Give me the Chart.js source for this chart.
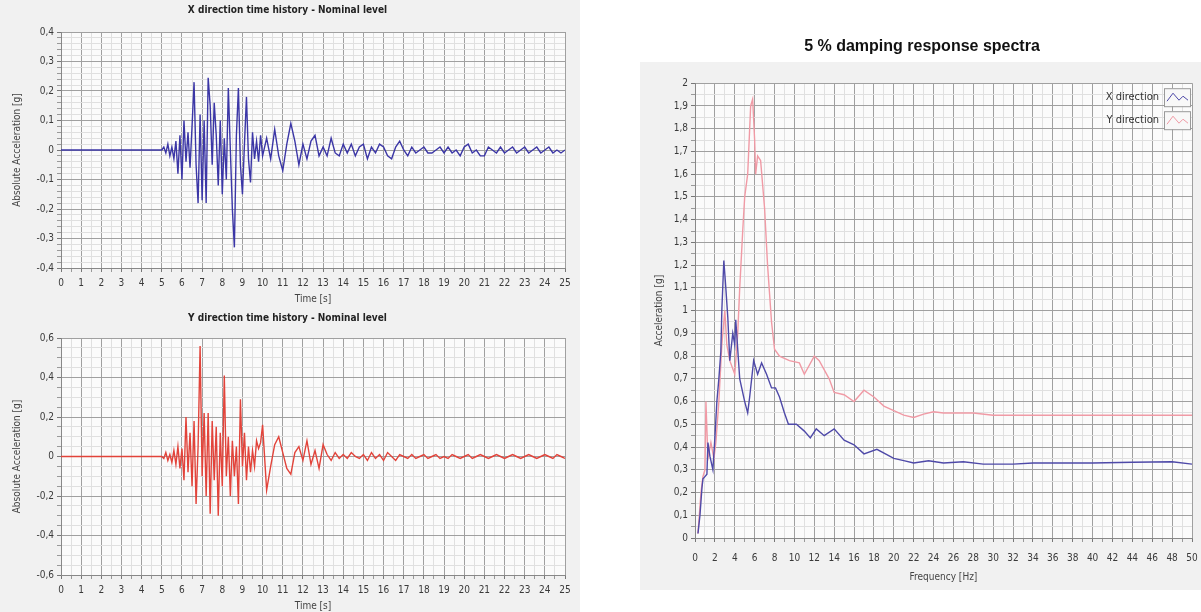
<!DOCTYPE html>
<html><head><meta charset="utf-8">
<script src="https://cdn.jsdelivr.net/npm/chart.js@4.4.1/dist/chart.umd.min.js"></script>
<style>
html,body{margin:0;padding:0;background:#fff;width:1201px;height:612px;overflow:hidden;}
.box{position:absolute;}
</style></head>
<body>
<div class="box" style="left:0;top:0;width:580px;height:305px"><canvas id="cx"></canvas></div>
<div class="box" style="left:0;top:305px;width:580px;height:307px"><canvas id="cy"></canvas></div>
<div class="box" style="left:630px;top:30px;width:571px;height:560px"><canvas id="cs"></canvas></div>
<script>
// ---------- DATA ----------
const timeS = [0,5.0,5.1,5.2,5.3,5.4,5.5,5.6,5.7,5.8,5.9,6.0,6.1,6.2,6.3,6.4,6.5,6.6,6.7,6.8,6.9,7.0,7.1,7.2,7.3,7.4,7.5,7.6,7.7,7.8,7.9,8.0,8.1,8.2,8.3,8.4,8.5,8.6,8.7,8.8,8.9,9.0,9.1,9.2,9.3,9.4,9.5,9.6,9.7,9.8,9.9,10.0,
10.2,10.4,10.6,10.8,11.0,11.2,11.4,11.6,11.8,12.0,12.2,12.4,12.6,12.8,13.0,13.2,13.4,13.6,13.8,14.0,14.2,14.4,14.6,14.8,15.0,15.2,15.4,15.6,15.8,16.0,16.2,16.4,16.6,16.8,17.0,17.2,17.4,17.6,17.8,18.0,18.2,18.4,18.6,18.8,19.0,19.2,19.4,19.6,19.8,20.0,20.2,20.4,20.6,20.8,21.0,21.2,21.4,21.6,21.8,22.0,22.2,22.4,22.6,22.8,23.0,23.2,23.4,23.6,23.8,24.0,24.2,24.4,24.6,24.8,25.0];

const accX = [0,0,0.01,-0.01,0.02,-0.02,0.01,-0.03,0.03,-0.08,0.05,-0.10,0.10,-0.04,0.06,-0.06,0.08,0.23,-0.05,-0.18,0.12,-0.17,0.10,-0.18,0.245,0.15,-0.05,0.16,0.05,-0.12,0.10,-0.15,0.04,-0.10,0.21,0.00,-0.20,-0.33,0.05,0.21,-0.05,-0.15,0.02,0.18,-0.03,-0.11,0.06,-0.03,0.03,-0.04,0.05,-0.02,
0.04,-0.03,0.07,-0.02,-0.07,0.02,0.09,0.03,-0.05,0.02,-0.03,0.03,0.05,-0.02,0.01,-0.02,0.04,-0.01,-0.02,0.02,-0.01,0.02,-0.02,0.01,0.02,-0.03,0.01,-0.01,0.02,0.01,-0.02,-0.03,0.01,0.03,0.00,-0.02,0.01,-0.01,0.00,0.01,-0.01,-0.01,0.00,0.01,-0.01,0.01,-0.01,0.00,-0.02,0.01,0.02,-0.01,0.00,-0.02,-0.02,0.01,0.00,-0.01,0.01,-0.01,0.00,0.01,-0.01,0.00,0.01,-0.01,0.00,0.01,-0.01,0.00,0.01,-0.01,0.00,-0.01,0.00];

const accY = [0,0,-0.01,0.02,-0.02,0.01,-0.03,0.03,-0.04,0.05,-0.06,0.04,-0.12,0.20,-0.08,0.12,-0.15,0.18,-0.24,0.05,0.56,-0.10,0.22,-0.20,0.22,-0.29,0.18,-0.12,0.15,-0.30,0.12,-0.15,0.41,-0.10,0.10,-0.20,0.08,-0.10,0.05,-0.24,0.29,-0.05,0.12,-0.12,0.05,-0.08,0.03,-0.05,0.08,0.04,0.07,0.16,
-0.17,-0.05,0.06,0.10,0.02,-0.06,-0.09,0.02,0.05,-0.02,0.08,-0.04,0.03,-0.06,0.06,0.01,-0.02,0.02,-0.01,0.01,-0.01,0.02,0.00,-0.01,0.01,-0.02,0.02,-0.01,0.01,-0.02,0.02,0.00,-0.02,0.01,0.00,-0.01,0.01,-0.01,0.00,0.01,-0.01,0.00,0.01,-0.01,0.00,-0.01,0.01,0.00,-0.01,0.00,0.01,-0.01,0.00,0.01,0.00,-0.01,0.00,0.01,0.00,-0.01,0.00,0.01,0.00,-0.01,0.00,0.01,0.00,-0.01,0.00,0.01,0.00,-0.01,0.01,0.00,-0.01];

const freqX = [0.3,0.5,0.7,0.8,1.0,1.2,1.3,1.5,1.8,2.0,2.2,2.4,2.6,2.7,2.9,3.1,3.3,3.5,3.8,4.0,4.1,4.5,5.0,5.3,5.5,5.9,6.3,6.7,7.2,7.7,8.1,8.5,9.0,9.4,10.2,11.0,11.6,12.2,13.0,14.0,15.0,16.0,17.0,18.3,20.0,21.0,22.0,23.5,25.0,27.0,29.0,32.0,34.0,40.0,44.0,48.0,50.0];
const specX = [0.02,0.10,0.22,0.26,0.27,0.28,0.42,0.36,0.30,0.44,0.60,0.70,0.82,1.00,1.22,1.10,0.97,0.78,0.90,0.85,0.96,0.70,0.60,0.55,0.62,0.78,0.72,0.77,0.72,0.66,0.66,0.62,0.55,0.50,0.50,0.47,0.44,0.48,0.45,0.48,0.43,0.41,0.37,0.39,0.35,0.34,0.33,0.34,0.33,0.335,0.325,0.325,0.33,0.33,0.333,0.335,0.325];

const freqY = [0.3,0.6,0.8,1.0,1.1,1.3,1.6,1.9,2.1,2.4,2.7,3.0,3.2,3.5,4.0,4.3,4.5,4.8,5.0,5.3,5.6,5.8,6.0,6.1,6.3,6.6,7.0,7.3,7.7,8.0,8.5,9.5,10.5,11.0,12.0,12.5,13.5,14.0,15.0,16.0,17.0,18.0,19.0,20.0,21.0,22.0,23.0,24.0,25.0,28.0,30.0,35.0,40.0,45.0,50.0];
const specY = [0.02,0.20,0.27,0.30,0.60,0.35,0.42,0.35,0.42,0.60,0.85,1.00,0.85,0.78,0.72,0.90,1.10,1.35,1.50,1.60,1.90,1.93,1.75,1.60,1.68,1.66,1.45,1.20,0.95,0.83,0.80,0.78,0.77,0.72,0.80,0.78,0.70,0.64,0.63,0.60,0.65,0.62,0.58,0.56,0.54,0.53,0.545,0.555,0.55,0.55,0.54,0.54,0.54,0.54,0.54];

const seriesLabels = ['X direction','Y direction'];
const titles = ['X direction time history - Nominal level','Y direction time history - Nominal level','5 % damping response spectra'];

// ---------- HELPERS ----------
const FAM = "'Liberation Sans Narrow','DejaVu Sans Condensed','Liberation Sans',sans-serif";
const pairs = (xs, ys) => xs.map((x,i)=>({x, y: ys[i]}));
const isMaj = (v, m) => Math.abs(v/m - Math.round(v/m)) < 1e-6;
const fmt = v => String(Math.round(v*100)/100).replace('.', ',');

const bgPlugin = (panel) => ({
  id: 'bg',
  beforeDraw(chart) {
    const c = chart.ctx, a = chart.chartArea;
    c.save();
    c.fillStyle = '#ffffff';
    c.fillRect(0,0,chart.width,chart.height);
    c.fillStyle = '#f1f1f1';
    c.fillRect(panel.x, panel.y, chart.width - panel.x, chart.height - panel.y);
    c.fillStyle = '#fbfbfb';
    c.fillRect(a.left, a.top, a.right-a.left, a.bottom-a.top);
    c.restore();
  }
});

function axis(min, max, step, major, title, fit, isX, tickFmt, tpad) {
  return {
    type: 'linear', min, max,
    afterFit: s => {
      if (isX) { s.height = fit; s.paddingLeft = 0; s.paddingRight = 0; }
      else { s.width = fit; s.paddingTop = 0; s.paddingBottom = 0; }
    },
    ticks: {
      stepSize: step, autoSkip: false, maxRotation: 0, color: '#3a3a3a',
      font: {family: FAM, size: 10}, padding: tpad,
      callback: v => isMaj(v, major) ? tickFmt(v) : ''
    },
    grid: {
      color: c => isMaj(c.tick.value, major) ? '#a0a0a0' : '#e0e0e0',
      tickColor: c => isMaj(c.tick.value, major) ? '#777' : '#999',
      tickLength: 4, lineWidth: 1
    },
    border: {display: true, color: '#888'},
    title: {display: true, text: title, color: '#444', font: {family: FAM, size: 10}, padding: {top: 1, bottom: 0}}
  };
}

function timeChart(id, title, ys, color, yMin, yMax, yMaj, yMin2, pad) {
  new Chart(document.getElementById(id), {
    type: 'line',
    data: {datasets: [{data: pairs(timeS, ys), borderColor: color, borderWidth: 1.4, pointRadius: 0, tension: 0}]},
    options: {
      responsive: true, maintainAspectRatio: false, animation: false, devicePixelRatio: 1,
      layout: {padding: {left: 10, right: 15, top: 0, bottom: 0}},
      plugins: {
        legend: {display: false}, tooltip: {enabled: false},
        title: {display: true, text: title, color: '#222', font: {family: FAM, size: 10, weight: 'bold'}, padding: pad}
      },
      scales: {
        x: axis(0, 25, 0.5, 1, 'Time [s]', 37, true, v => String(v), 5),
        y: axis(yMin, yMax, yMin2, yMaj, 'Absolute Acceleration [g]', 51, false, fmt, 3)
      }
    },
    plugins: [bgPlugin({x: 0, y: 0})]
  });
}

timeChart('cx', titles[0], accX, '#3b36a6', -0.4, 0.4, 0.1, 0.02, {top: 4, bottom: 16});
timeChart('cy', titles[1], accY, '#e2433a', -0.6, 0.6, 0.2, 0.05, {top: 7, bottom: 14});

const legendPlugin = {
  id: 'inLegend',
  afterDraw(chart) {
    const c = chart.ctx, a = chart.chartArea;
    c.save();
    chart.data.datasets.forEach((ds, i) => {
      const cy = a.top + 14 + i * 23;
      c.font = "11px " + FAM;
      c.fillStyle = '#333';
      c.textAlign = 'right'; c.textBaseline = 'middle';
      c.fillText(ds.label, a.right - 33, cy);
      const bx = a.right - 28, by = cy - 9;
      c.fillStyle = '#f8f8f8'; c.fillRect(bx, by, 26, 18);
      c.strokeStyle = '#999'; c.lineWidth = 1; c.strokeRect(bx + 0.5, by + 0.5, 26, 18);
      c.strokeStyle = ds.borderColor; c.beginPath();
      c.moveTo(bx + 3, cy + 4); c.lineTo(bx + 9, cy - 4); c.lineTo(bx + 15, cy + 3); c.lineTo(bx + 19, cy - 1); c.lineTo(bx + 24, cy + 3);
      c.stroke();
    });
    c.restore();
  }
};

new Chart(document.getElementById('cs'), {
  type: 'line',
  data: {datasets: [
    {label: seriesLabels[0], data: pairs(freqX, specX), borderColor: '#4e49a8', borderWidth: 1.4, pointRadius: 0, tension: 0},
    {label: seriesLabels[1], data: pairs(freqY, specY), borderColor: '#f09aa5', borderWidth: 1.4, pointRadius: 0, tension: 0}
  ]},
  options: {
    responsive: true, maintainAspectRatio: false, animation: false, devicePixelRatio: 1,
    layout: {padding: {left: 22, right: 9, top: 0, bottom: 7}},
    plugins: {
      legend: {display: false}, tooltip: {enabled: false},
      title: {display: true, text: titles[2], color: '#111', font: {family: "'Liberation Sans',Arial,sans-serif", size: 16, weight: 'bold'}, padding: {top: 7, bottom: 27}}
    },
    scales: {
      x: axis(0, 50, 1, 2, 'Frequency [Hz]', 45, true, v => String(v), 10),
      y: axis(0, 2, 0.05, 0.1, 'Acceleration [g]', 43, false, fmt, 3)
    }
  },
  plugins: [bgPlugin({x: 10, y: 32}), legendPlugin]
});
</script>
</body></html>
